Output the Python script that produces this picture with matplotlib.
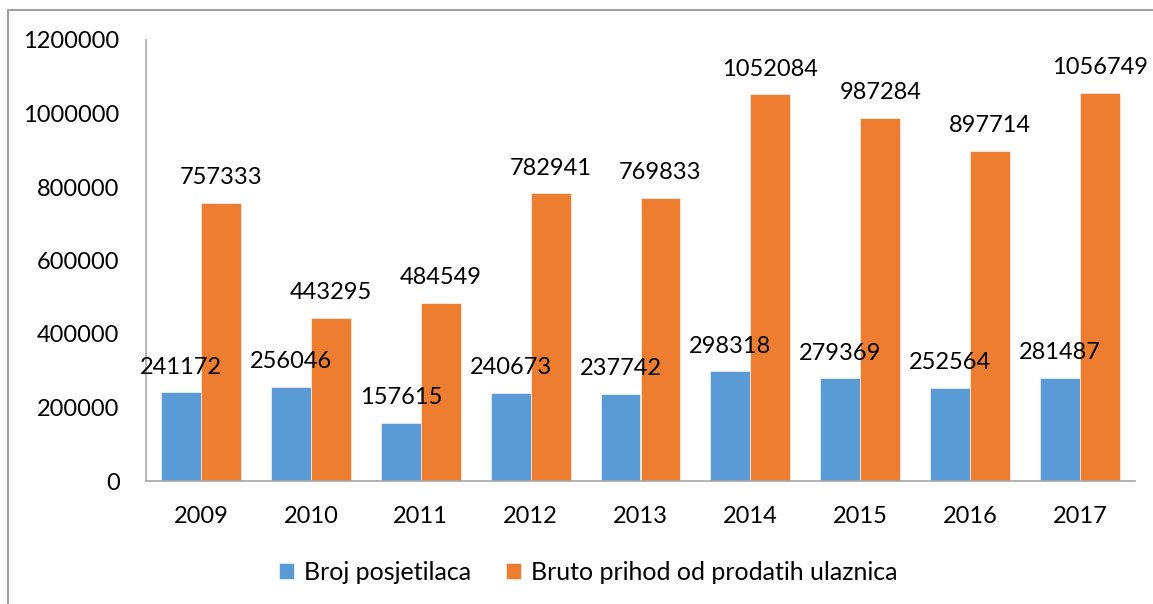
import numpy as np
import matplotlib.pyplot as plt
from matplotlib.patches import Rectangle

plt.rcParams['font.family'] = ['Lato', 'DejaVu Sans']

years = ['2009', '2010', '2011', '2012', '2013', '2014', '2015', '2016', '2017']
posjetioci = [241172, 256046, 157615, 240673, 237742, 298318, 279369, 252564, 281487]
prihod = [757333, 443295, 484549, 782941, 769833, 1052084, 987284, 897714, 1056749]

blue = '#5B9BD5'
orange = '#ED7D31'
axis_gray = '#A6A6A6'
fs = 17

fig = plt.figure(figsize=(11.53, 6.04), dpi=100)
ax = fig.add_axes([146 / 1153, 1 - 481 / 604, (1135 - 146) / 1153, (481 - 40) / 604])

x = np.arange(len(years))
w = 0.364
b1 = ax.bar(x - w / 2, posjetioci, w, color=blue, edgecolor='white', linewidth=0.4,
            label='Broj posjetilaca')
b2 = ax.bar(x + w / 2, prihod, w, color=orange, edgecolor='white', linewidth=0.4,
            label='Bruto prihod od prodatih ulaznica')

for bars, vals in ((b1, posjetioci), (b2, prihod)):
    for rect, v in zip(bars, vals):
        ax.annotate(str(v), (rect.get_x() + rect.get_width() / 2, v),
                    xytext=(0, 13.5), textcoords='offset points',
                    ha='center', va='baseline', fontsize=fs, color='black')

ax.set_xlim(-0.5, len(years) - 0.5)
ax.set_ylim(0, 1200000)
ax.set_yticks(np.arange(0, 1200001, 200000))
ax.set_yticklabels([str(v) for v in range(0, 1200001, 200000)])
ax.set_xticks(x)
ax.set_xticklabels(years)
ax.tick_params(axis='y', length=0, pad=19, labelsize=fs)
ax.tick_params(axis='x', length=0, pad=18, labelsize=fs)

for s in ('top', 'right'):
    ax.spines[s].set_visible(False)
for s in ('left', 'bottom'):
    ax.spines[s].set_color(axis_gray)
    ax.spines[s].set_linewidth(1.2)

fig.legend(handles=[b1, b2], loc='center', bbox_to_anchor=(0.51, 1 - 572 / 604),
           ncol=2, frameon=False, fontsize=18, handlelength=0.6, handleheight=0.6,
           handletextpad=0.4, columnspacing=1.4)

fig.patches.append(Rectangle((8 / 1153, -0.1), 1.2, 1 - 10 / 604 + 0.1,
                             transform=fig.transFigure, fill=False,
                             edgecolor='#A0A0A0', linewidth=1.5))

fig.savefig('out.png', dpi=100)
